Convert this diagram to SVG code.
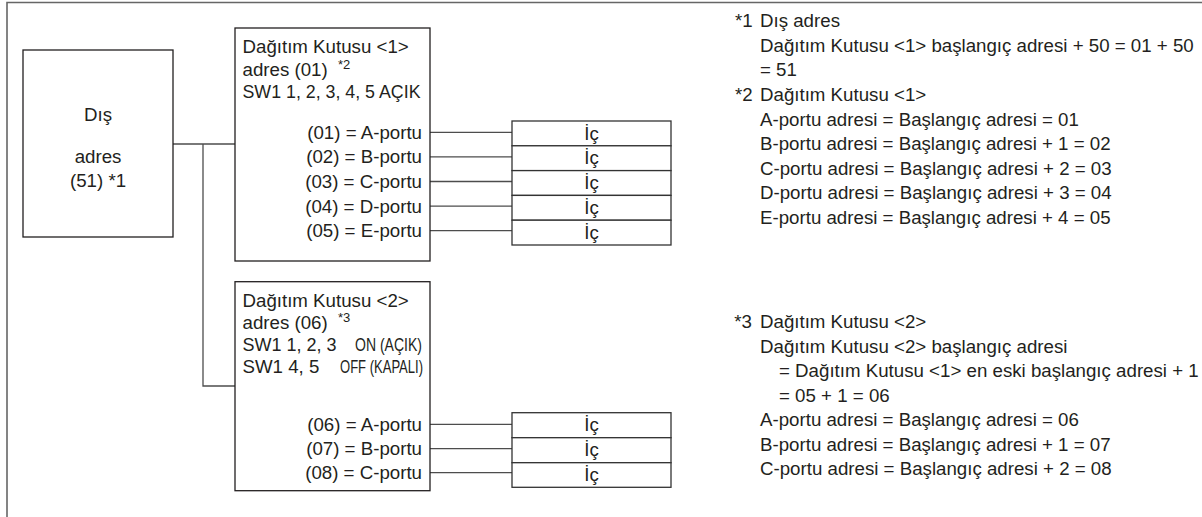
<svg xmlns="http://www.w3.org/2000/svg" width="1202" height="517" viewBox="0 0 1202 517">
<style>
text{font-family:"Liberation Sans",Arial,sans-serif;font-size:18.7px;fill:#231f20}
.box{fill:#fff;stroke:#231f20;stroke-width:1.3}
.ic{fill:#fff;stroke:#333;stroke-width:1.3}
.ln{fill:none;stroke:#4d4d4d;stroke-width:1.3}
.frame{fill:none;stroke:#666;stroke-width:1.6}
.c{text-anchor:middle}
.e{text-anchor:end}
.sup{font-size:13px}
</style>
<rect width="1202" height="517" fill="#fff"/>
<path class="frame" d="M7,517 V2.5 H1202"/>
<g id="connectors">
<path class="ln" d="M173,144 H235 M203,144 V386 H235"/>
<path class="ln" d="M430,132.3 H512 M430,156.9 H512 M430,181.5 H512 M430,206.1 H512 M430,230.7 H512"/>
<path class="ln" d="M430,424.3 H512 M430,448.7 H512 M430,472.7 H512"/>
</g>
<g id="outdoor">
<rect class="box" x="23" y="50" width="150" height="187"/>
<text class="c" x="98" y="121">Dış</text>
<text class="c" x="98" y="163">adres</text>
<text class="c" x="98" y="187">(51) *1</text>
</g>
<g id="box1">
<rect class="box" x="235" y="28" width="195" height="233"/>
<text x="242.5" y="53">Dağıtım Kutusu &lt;1&gt;</text>
<text x="242.5" y="76">adres (01)</text>
<text class="sup" x="338" y="69">*2</text>
<text x="242.5" y="98.3" textLength="178" lengthAdjust="spacingAndGlyphs">SW1 1, 2, 3, 4, 5 AÇIK</text>
<text class="e" x="422" y="138.8">(01) = A-portu</text>
<text class="e" x="422" y="163.4">(02) = B-portu</text>
<text class="e" x="422" y="188">(03) = C-portu</text>
<text class="e" x="422" y="212.6">(04) = D-portu</text>
<text class="e" x="422" y="237.2">(05) = E-portu</text>
</g>
<g id="indoor1">
<rect class="ic" x="512" y="121" width="159" height="24.8"/>
<rect class="ic" x="512" y="145.8" width="159" height="24.8"/>
<rect class="ic" x="512" y="170.6" width="159" height="24.8"/>
<rect class="ic" x="512" y="195.4" width="159" height="24.8"/>
<rect class="ic" x="512" y="220.2" width="159" height="24.8"/>
<text class="c" x="591.5" y="139.5">İç</text>
<text class="c" x="591.5" y="164.3">İç</text>
<text class="c" x="591.5" y="189.1">İç</text>
<text class="c" x="591.5" y="213.9">İç</text>
<text class="c" x="591.5" y="238.7">İç</text>
</g>
<g id="box2">
<rect class="box" x="235" y="281.7" width="195" height="209"/>
<text x="242.5" y="306.7">Dağıtım Kutusu &lt;2&gt;</text>
<text x="242.5" y="329.3">adres (06)</text>
<text class="sup" x="338" y="322.3">*3</text>
<text x="242.5" y="350.7" style="font-size:18px">SW1 1, 2, 3</text>
<text x="355" y="350.7" textLength="67" lengthAdjust="spacingAndGlyphs">ON (AÇIK)</text>
<text x="242.5" y="373">SW1 4, 5</text>
<text x="340" y="373" textLength="83" lengthAdjust="spacingAndGlyphs">OFF (KAPALI)</text>
<text class="e" x="422" y="430.8">(06) = A-portu</text>
<text class="e" x="422" y="455.2">(07) = B-portu</text>
<text class="e" x="422" y="479.2">(08) = C-portu</text>
</g>
<g id="indoor2">
<rect class="ic" x="512" y="412.7" width="159" height="25"/>
<rect class="ic" x="512" y="437.7" width="159" height="25"/>
<rect class="ic" x="512" y="462.7" width="159" height="24.6"/>
<text class="c" x="591.5" y="431.2">İç</text>
<text class="c" x="591.5" y="456.2">İç</text>
<text class="c" x="591.5" y="481">İç</text>
</g>
<g id="notes">
<text x="735" y="27">*1</text>
<text x="760" y="27">Dış adres</text>
<text x="760" y="51.7">Dağıtım Kutusu &lt;1&gt; başlangıç adresi + 50 = 01 + 50</text>
<text x="760" y="76.3">= 51</text>
<text x="735" y="101">*2</text>
<text x="760" y="101">Dağıtım Kutusu &lt;1&gt;</text>
<text x="760" y="125.6">A-portu adresi = Başlangıç adresi = 01</text>
<text x="760" y="150.2">B-portu adresi = Başlangıç adresi + 1 = 02</text>
<text x="760" y="174.8">C-portu adresi = Başlangıç adresi + 2 = 03</text>
<text x="760" y="199.4">D-portu adresi = Başlangıç adresi + 3 = 04</text>
<text x="760" y="224">E-portu adresi = Başlangıç adresi + 4 = 05</text>
<text x="734.3" y="328">*3</text>
<text x="760" y="328">Dağıtım Kutusu &lt;2&gt;</text>
<text x="760" y="352.5">Dağıtım Kutusu &lt;2&gt; başlangıç adresi</text>
<text x="779" y="377">= Dağıtım Kutusu &lt;1&gt; en eski başlangıç adresi + 1</text>
<text x="779" y="401.5">= 05 + 1 = 06</text>
<text x="760" y="426">A-portu adresi = Başlangıç adresi = 06</text>
<text x="760" y="450.5">B-portu adresi = Başlangıç adresi + 1 = 07</text>
<text x="760" y="475">C-portu adresi = Başlangıç adresi + 2 = 08</text>
</g>
</svg>
